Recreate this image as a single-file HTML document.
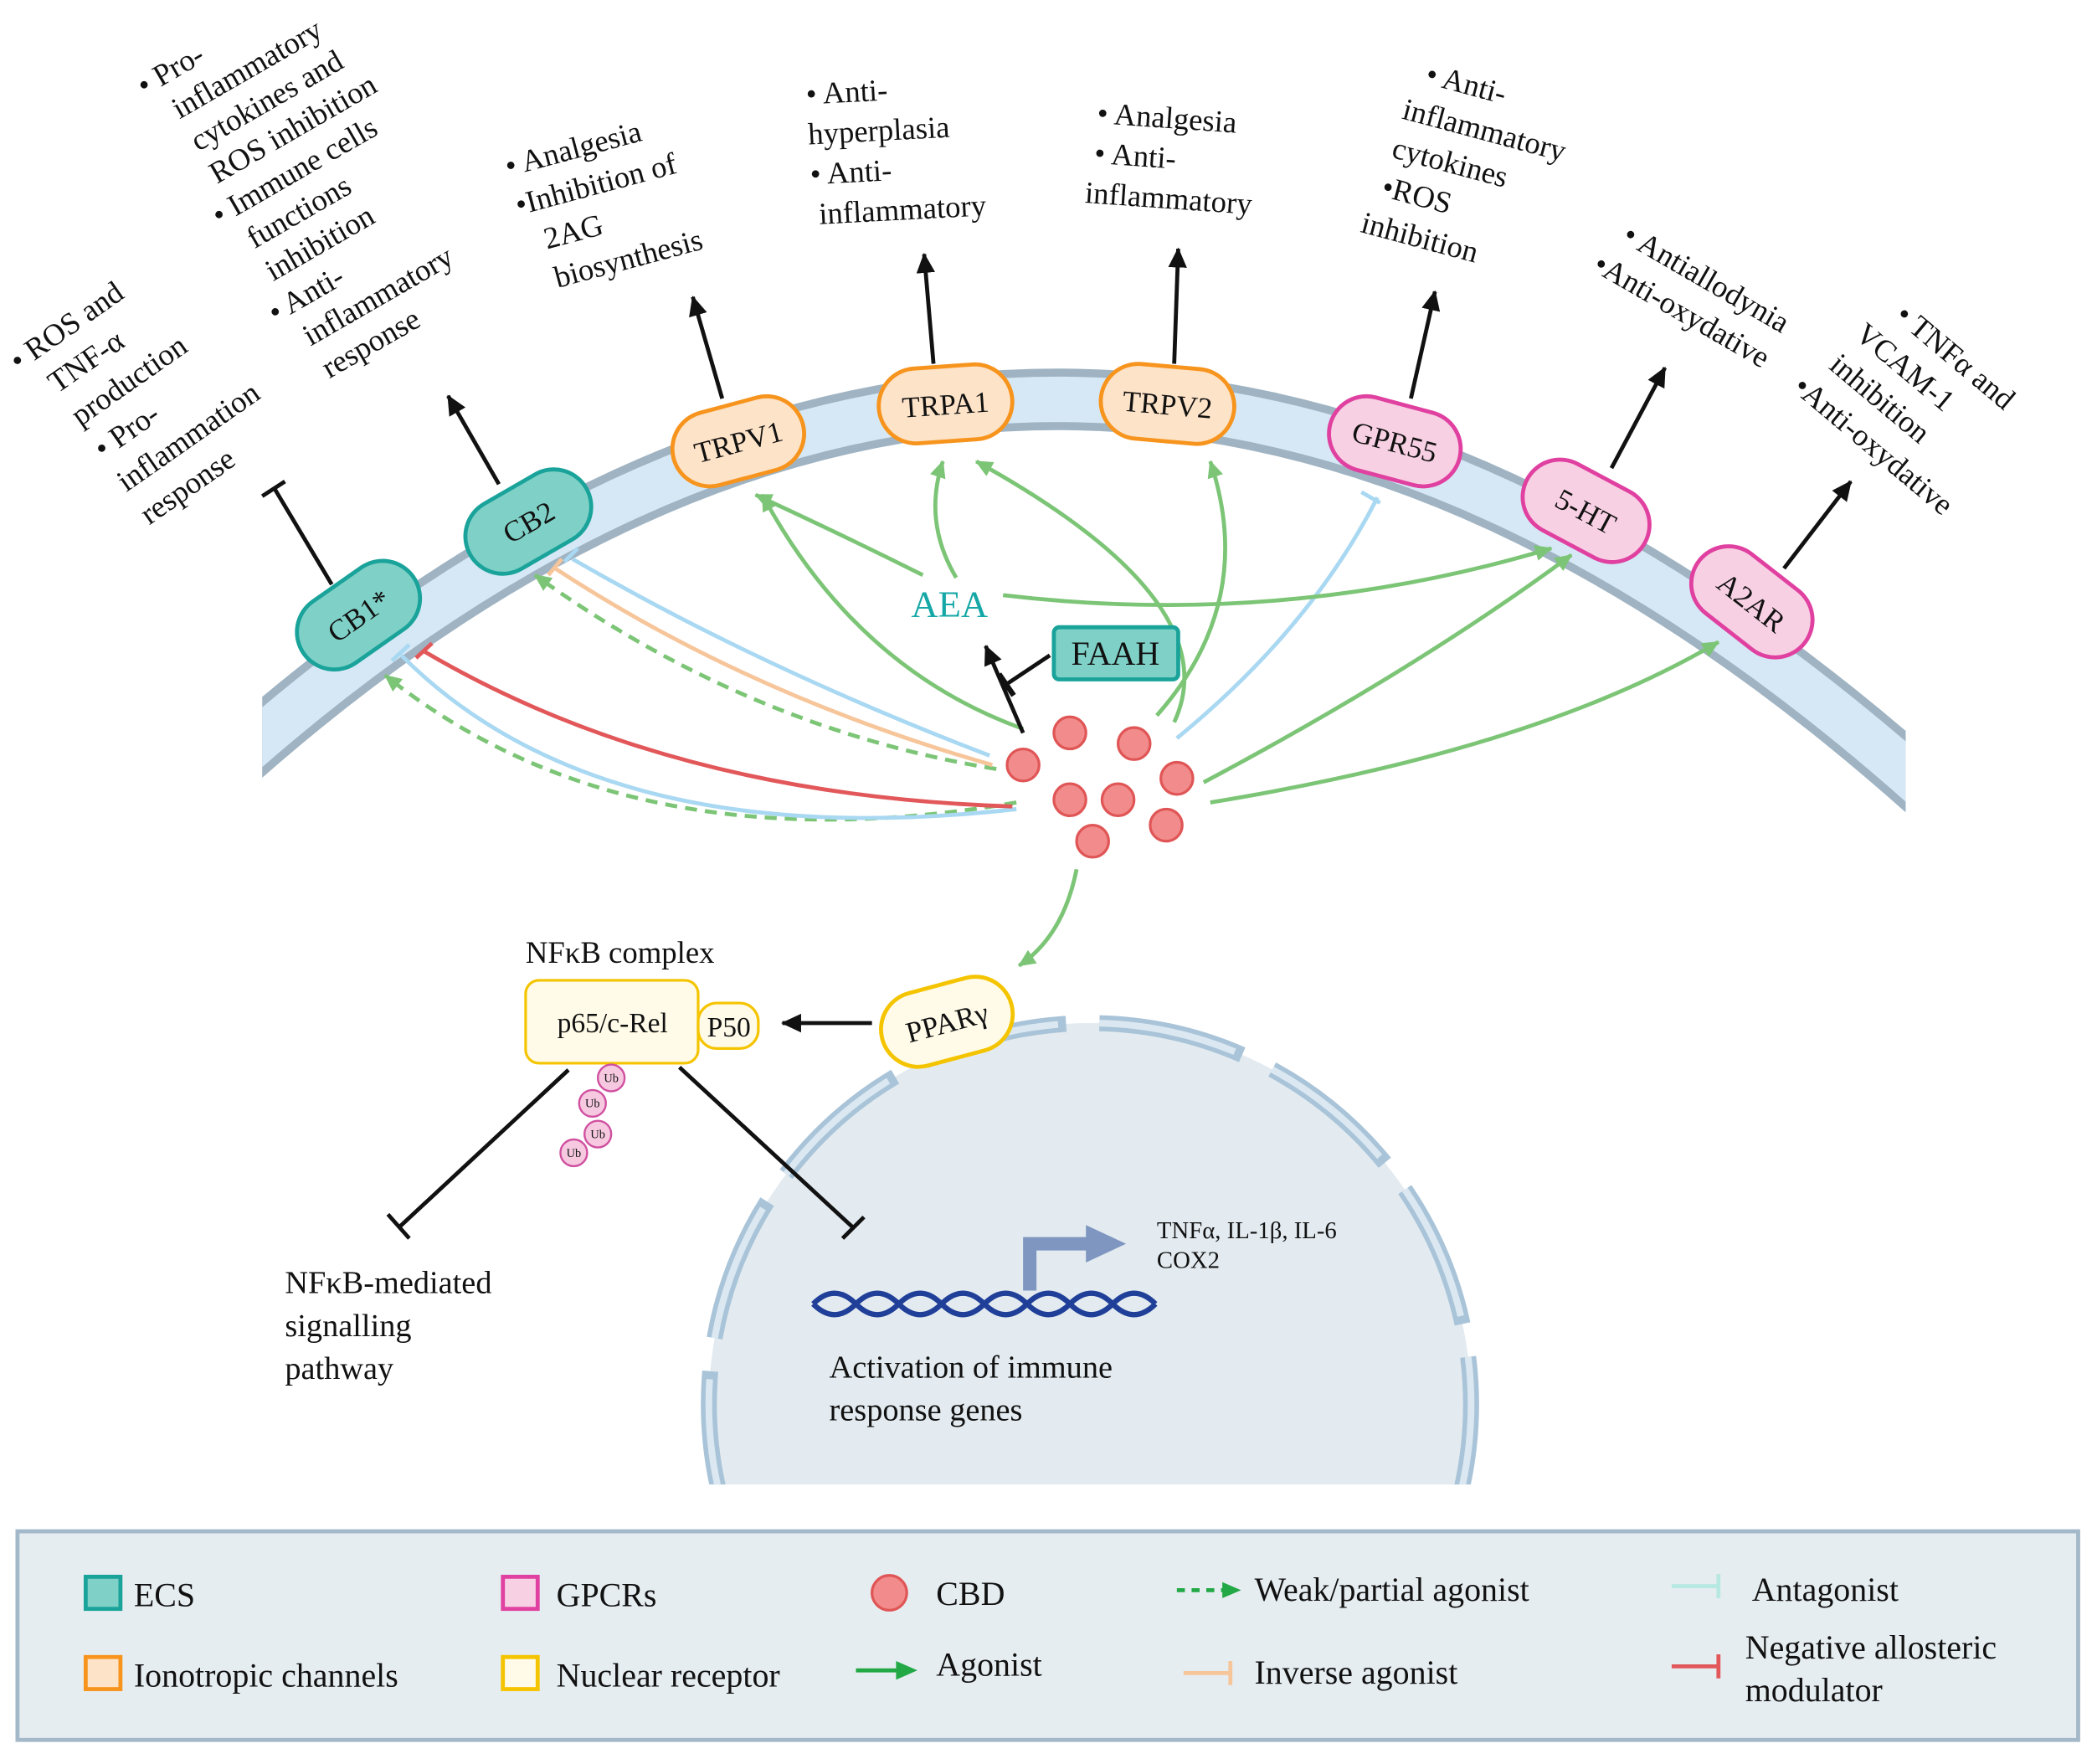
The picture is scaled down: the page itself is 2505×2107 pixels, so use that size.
<!DOCTYPE html>
<html><head><meta charset="utf-8"><style>
html,body{margin:0;padding:0;background:#fff;}
svg{display:block;}
text{font-family:"Liberation Serif","Times New Roman",serif;fill:#111;}
</style></head><body>
<svg width="2505" height="2107" viewBox="0 0 1568 1319" xmlns="http://www.w3.org/2000/svg" font-family="Liberation Serif, serif">
<defs>
<marker id="ag" markerWidth="14" markerHeight="14" refX="12" refY="7" orient="auto" markerUnits="userSpaceOnUse"><path d="M0,1 L13,7 L0,13 z" fill="#7cc576"/></marker>
<marker id="abk" markerWidth="16" markerHeight="16" refX="14" refY="8" orient="auto" markerUnits="userSpaceOnUse"><path d="M0,1 L15,8 L0,15 z" fill="#111"/></marker>
<clipPath id="cl"><rect x="0" y="0" width="1568" height="1110"/></clipPath>
<clipPath id="cm"><rect x="196" y="0" width="1229" height="700"/></clipPath>
</defs>

<!-- membrane -->
<g clip-path="url(#cm)">
<path d="M180,565 Q800,20 1440,590" fill="none" stroke="#9fb3c2" stroke-width="46"/>
<path d="M180,565 Q800,20 1440,590" fill="none" stroke="#d6e8f5" stroke-width="34"/>
</g>

<!-- nucleus -->
<g clip-path="url(#cl)">
<circle cx="815" cy="1050" r="285" fill="#e3ebf0"/>
<circle cx="815" cy="1050" r="285" fill="none" stroke="#a9c4d8" stroke-width="12" stroke-dasharray="110 25"/>
<circle cx="815" cy="1050" r="285" fill="none" stroke="#dbe8f2" stroke-width="5" stroke-dasharray="104 31"/>
</g>

<!-- connectors from CBD -->
<g fill="none" stroke-width="3">
<path d="M760,600 Q470,650 288,505" stroke="#7cc576" stroke-dasharray="9 6" marker-end="url(#ag)"/>
<path d="M760,605 Q450,640 300,490" stroke="#a9d8f2"/>
<path d="M757,603 Q500,595 317,487" stroke="#e2585a"/>
<path d="M745,575 Q560,545 400,430" stroke="#7cc576" stroke-dasharray="9 6" marker-end="url(#ag)"/>
<path d="M742,572 Q560,520 415,425" stroke="#f7c59a"/>
<path d="M740,565 Q570,500 428,418" stroke="#a9d8f2"/>
<path d="M765,545 Q640,500 570,370" stroke="#7cc576" marker-end="url(#ag)"/>
<path d="M878,540 Q920,450 730,345" stroke="#7cc576" marker-end="url(#ag)"/>
<path d="M865,535 Q940,450 905,345" stroke="#7cc576" marker-end="url(#ag)"/>
<path d="M880,552 Q980,470 1030,372" stroke="#a9d8f2"/>
<path d="M900,585 Q1060,500 1175,415" stroke="#7cc576" marker-end="url(#ag)"/>
<path d="M905,600 Q1150,560 1285,480" stroke="#7cc576" marker-end="url(#ag)"/>
<path d="M805,650 Q795,700 762,722" stroke="#7cc576" marker-end="url(#ag)"/>
<path d="M690,430 Q630,400 565,370" stroke="#7cc576" marker-end="url(#ag)"/>
<path d="M715,432 Q690,390 705,345" stroke="#7cc576" marker-end="url(#ag)"/>
<path d="M750,445 Q960,470 1160,410" stroke="#7cc576" marker-end="url(#ag)"/>
</g>
<g stroke-width="3">
<line x1="293" y1="494" x2="306" y2="482" stroke="#a9d8f2"/>
<line x1="311" y1="492" x2="323" y2="481" stroke="#e2585a"/>
<line x1="410" y1="430" x2="420" y2="418" stroke="#f7c59a"/>
<line x1="422" y1="420" x2="432" y2="410" stroke="#a9d8f2"/>
<line x1="1018" y1="368" x2="1032" y2="376" stroke="#a9d8f2"/>
</g>

<!-- black arrows -->
<g stroke="#111" stroke-width="3" fill="none">
<line x1="248" y1="437" x2="205" y2="365"/><line x1="196" y1="371" x2="213" y2="360"/>
<line x1="373" y1="362" x2="335" y2="296" marker-end="url(#abk)"/>
<line x1="540" y1="298" x2="518" y2="222" marker-end="url(#abk)"/>
<line x1="698" y1="272" x2="691" y2="190" marker-end="url(#abk)"/>
<line x1="878" y1="272" x2="881" y2="186" marker-end="url(#abk)"/>
<line x1="1055" y1="298" x2="1073" y2="218" marker-end="url(#abk)"/>
<line x1="1205" y1="350" x2="1245" y2="275" marker-end="url(#abk)"/>
<line x1="1334" y1="425" x2="1384" y2="360" marker-end="url(#abk)"/>
<line x1="765" y1="548" x2="737" y2="483" marker-end="url(#abk)"/>
<line x1="752" y1="512" x2="785" y2="490"/><line x1="747" y1="504" x2="758" y2="520" stroke-width="4"/>
<line x1="652" y1="765" x2="585" y2="765" marker-end="url(#abk)"/>
<line x1="425" y1="800" x2="298" y2="918"/><line x1="290" y1="908" x2="306" y2="926"/>
<line x1="508" y1="798" x2="638" y2="918"/><line x1="630" y1="926" x2="646" y2="910"/>
</g>

<!-- receptors -->
<g font-size="22" text-anchor="middle">
<g transform="translate(268,460) rotate(-35)"><rect x="-50" y="-28" width="100" height="56" rx="28" fill="#7fd1c7" stroke="#1aa39a" stroke-width="3"/><text y="8">CB1*</text></g>
<g transform="translate(395,390) rotate(-30)"><rect x="-50" y="-28" width="100" height="56" rx="28" fill="#7fd1c7" stroke="#1aa39a" stroke-width="3"/><text y="8">CB2</text></g>
<g transform="translate(552,330) rotate(-15)"><rect x="-50" y="-28" width="100" height="56" rx="28" fill="#fde3c8" stroke="#f7941d" stroke-width="3"/><text y="8">TRPV1</text></g>
<g transform="translate(707,302) rotate(-4)"><rect x="-50" y="-28" width="100" height="56" rx="28" fill="#fde3c8" stroke="#f7941d" stroke-width="3"/><text y="8">TRPA1</text></g>
<g transform="translate(873,302) rotate(5)"><rect x="-50" y="-28" width="100" height="56" rx="28" fill="#fde3c8" stroke="#f7941d" stroke-width="3"/><text y="8">TRPV2</text></g>
<g transform="translate(1043,330) rotate(15)"><rect x="-50" y="-28" width="100" height="56" rx="28" fill="#f8d0e3" stroke="#e040a0" stroke-width="3"/><text y="8">GPR55</text></g>
<g transform="translate(1186,382) rotate(28)"><rect x="-50" y="-28" width="100" height="56" rx="28" fill="#f8d0e3" stroke="#e040a0" stroke-width="3"/><text y="8">5-HT</text></g>
<g transform="translate(1310,450) rotate(38)"><rect x="-50" y="-28" width="100" height="56" rx="28" fill="#f8d0e3" stroke="#e040a0" stroke-width="3"/><text y="8">A2AR</text></g>
<g transform="translate(708,764) rotate(-15)"><rect x="-50" y="-28" width="100" height="56" rx="28" fill="#fffbe8" stroke="#f5c400" stroke-width="3"/><text y="8">PPARγ</text></g>
</g>

<rect x="788" y="469" width="93" height="39" rx="4" fill="#7fd1c7" stroke="#1aa39a" stroke-width="3"/>
<text x="834" y="497" font-size="25" text-anchor="middle">FAAH</text>
<text x="710" y="461" font-size="28" text-anchor="middle" style="fill:#16a7a7">AEA</text>

<g fill="#f28b8b" stroke="#e05555" stroke-width="2">
<circle cx="800" cy="548" r="12"/><circle cx="848" cy="556" r="12"/><circle cx="765" cy="572" r="12"/><circle cx="880" cy="582" r="12"/><circle cx="800" cy="598" r="12"/><circle cx="836" cy="598" r="12"/><circle cx="872" cy="617" r="12"/><circle cx="817" cy="629" r="12"/>
</g>

<text x="393" y="720" font-size="23">NFκB complex</text>
<rect x="393" y="733" width="129" height="62" rx="10" fill="#fffbe8" stroke="#f5c400" stroke-width="2"/>
<text x="458" y="772" font-size="21" text-anchor="middle">p65/c-Rel</text>
<rect x="522" y="750" width="45" height="34" rx="14" fill="#fffbe8" stroke="#f5c400" stroke-width="2"/>
<text x="545" y="775" font-size="21" text-anchor="middle">P50</text>
<g fill="#f6c9e0" stroke="#d050a0" stroke-width="1.5">
<circle cx="457" cy="806" r="10"/><circle cx="443" cy="825" r="10"/><circle cx="447" cy="848" r="10"/><circle cx="429" cy="862" r="10"/>
</g>
<g font-size="9" text-anchor="middle"><text x="457" y="809">Ub</text><text x="443" y="828">Ub</text><text x="447" y="851">Ub</text><text x="429" y="865">Ub</text></g>
<text font-size="24"><tspan x="213" y="967">NFκB-mediated</tspan><tspan x="213" y="999">signalling</tspan><tspan x="213" y="1031">pathway</tspan></text>

<path d="M770,965 L770,930 L815,930" fill="none" stroke="#7f96c0" stroke-width="10"/>
<path d="M812,916 L842,930 L812,944 z" fill="#7f96c0"/>
<path d="M608,975 q16,-16 32,0 t32,0 t32,0 t32,0 t32,0 t32,0 t32,0 t32,0" fill="none" stroke="#1f3f98" stroke-width="4"/>
<path d="M608,975 q16,16 32,0 t32,0 t32,0 t32,0 t32,0 t32,0 t32,0 t32,0" fill="none" stroke="#1f3f98" stroke-width="4"/>
<text font-size="18"><tspan x="865" y="926">TNFα, IL-1β, IL-6</tspan><tspan x="865" y="948">COX2</tspan></text>
<text font-size="24"><tspan x="620" y="1030">Activation of immune</tspan><tspan x="620" y="1062">response genes</tspan></text>

<g font-size="23">
<text transform="translate(14,278) rotate(-35)"><tspan x="0" y="0">• ROS and</tspan><tspan x="14" y="30">TNF-α</tspan><tspan x="14" y="60">production</tspan><tspan x="14" y="90">• Pro-</tspan><tspan x="14" y="120">inflammation</tspan><tspan x="14" y="150">response</tspan></text>
<text transform="translate(108,72) rotate(-30)"><tspan x="0" y="0">• Pro-</tspan><tspan x="14" y="28">inflammatory</tspan><tspan x="14" y="56">cytokines and</tspan><tspan x="14" y="84">ROS inhibition</tspan><tspan x="0" y="112">• Immune cells</tspan><tspan x="14" y="140">functions</tspan><tspan x="14" y="168">inhibition</tspan><tspan x="0" y="196">• Anti-</tspan><tspan x="14" y="224">inflammatory</tspan><tspan x="14" y="252">response</tspan></text>
<text transform="translate(380,132) rotate(-15)"><tspan x="0" y="0">• Analgesia</tspan><tspan x="0" y="30">•Inhibition of</tspan><tspan x="14" y="60">2AG</tspan><tspan x="14" y="90">biosynthesis</tspan></text>
<text transform="translate(603,78) rotate(-3)"><tspan x="0" y="0">• Anti-</tspan><tspan x="0" y="30">hyperplasia</tspan><tspan x="0" y="60">• Anti-</tspan><tspan x="5" y="90">inflammatory</tspan></text>
<text transform="translate(820,92) rotate(4)"><tspan x="0" y="0">• Analgesia</tspan><tspan x="0" y="30">• Anti-</tspan><tspan x="-5" y="60">inflammatory</tspan></text>
<text transform="translate(1065,62) rotate(15)"><tspan x="0" y="0">• Anti-</tspan><tspan x="-10" y="30">inflammatory</tspan><tspan x="-10" y="60">cytokines</tspan><tspan x="-10" y="90">•ROS</tspan><tspan x="-18" y="120">inhibition</tspan></text>
<text transform="translate(1212,180) rotate(30)"><tspan x="0" y="0">• Antiallodynia</tspan><tspan x="-8" y="30">•Anti-oxydative</tspan></text>
<text transform="translate(1416,238) rotate(40)"><tspan x="0" y="0">• TNFα and</tspan><tspan x="-14" y="30">VCAM-1</tspan><tspan x="-14" y="60">inhibition</tspan><tspan x="-24" y="90">•Anti-oxydative</tspan></text>
</g>

<rect x="13" y="1145" width="1541" height="156" fill="#e6edf1" stroke="#a3b8c8" stroke-width="3"/>
<g font-size="25">
<rect x="64" y="1179" width="26" height="24" fill="#7fd1c7" stroke="#1aa39a" stroke-width="3"/><text x="100" y="1201">ECS</text>
<rect x="64" y="1239" width="26" height="24" fill="#fde3c8" stroke="#f7941d" stroke-width="3"/><text x="100" y="1261">Ionotropic channels</text>
<rect x="376" y="1179" width="26" height="24" fill="#f8d0e3" stroke="#e040a0" stroke-width="3"/><text x="416" y="1201">GPCRs</text>
<rect x="376" y="1239" width="26" height="24" fill="#fffbe8" stroke="#f5c400" stroke-width="3"/><text x="416" y="1261">Nuclear receptor</text>
<circle cx="665" cy="1191" r="13" fill="#f28b8b" stroke="#e05555" stroke-width="2"/><text x="700" y="1200">CBD</text>
<line x1="640" y1="1249" x2="672" y2="1249" stroke="#22a845" stroke-width="3"/><path d="M670,1242 L686,1249 L670,1256z" fill="#22a845"/><text x="700" y="1253">Agonist</text>
<line x1="880" y1="1189" x2="916" y2="1189" stroke="#22a845" stroke-width="3" stroke-dasharray="6 5"/><path d="M914,1183 L928,1189 L914,1195z" fill="#22a845"/><text x="938" y="1197">Weak/partial agonist</text>
<line x1="885" y1="1251" x2="920" y2="1251" stroke="#f7c59a" stroke-width="3"/><line x1="920" y1="1242" x2="920" y2="1260" stroke="#f7c59a" stroke-width="3"/><text x="938" y="1259">Inverse agonist</text>
<line x1="1250" y1="1186" x2="1285" y2="1186" stroke="#b7e8e2" stroke-width="3"/><line x1="1285" y1="1177" x2="1285" y2="1195" stroke="#b7e8e2" stroke-width="3"/><text x="1310" y="1197">Antagonist</text>
<line x1="1250" y1="1246" x2="1285" y2="1246" stroke="#e2585a" stroke-width="3"/><line x1="1285" y1="1237" x2="1285" y2="1255" stroke="#e2585a" stroke-width="3"/><text x="1305" y="1240">Negative allosteric</text><text x="1305" y="1272">modulator</text>
</g>
</svg>
</body></html>
